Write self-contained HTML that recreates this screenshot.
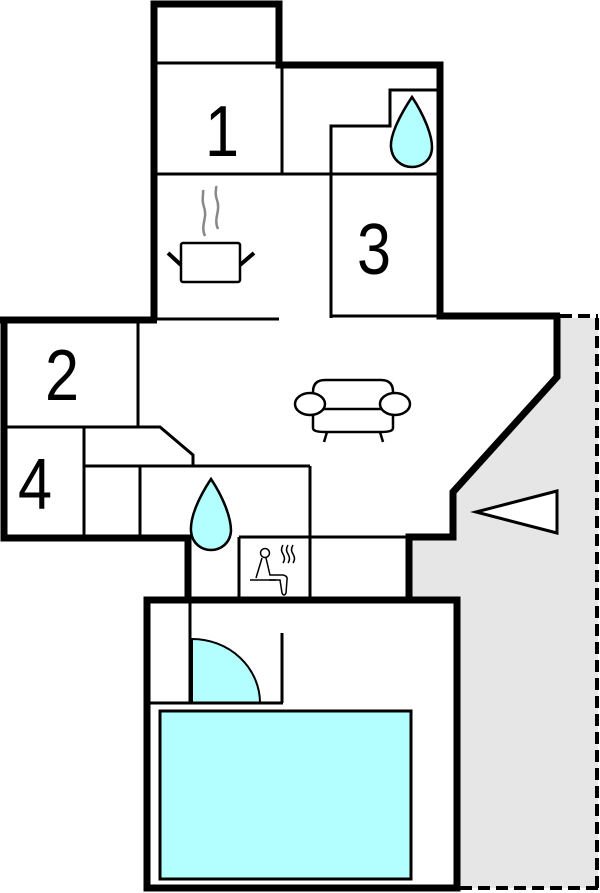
<!DOCTYPE html>
<html><head><style>html,body{margin:0;padding:0;background:#fff;}svg{display:block}</style></head>
<body>
<svg width="600" height="893" viewBox="0 0 600 893" xmlns="http://www.w3.org/2000/svg">
<polygon points="560,318 598,318 598,888 457,888 457,597 409,597 409,537 453,537 453,492 557,377 557,318" fill="#e6e6e6"/>
<g stroke="#000" stroke-width="4" stroke-dasharray="12,6" fill="none">
<line x1="597" y1="318" x2="597" y2="888"/>
<line x1="598" y1="888" x2="457" y2="888"/>
<line x1="560" y1="316" x2="598" y2="316"/>
</g>
<rect x="160" y="711" width="251" height="168" fill="#b3ffff" stroke="#000" stroke-width="3"/>
<path d="M192,703 L192,639 A68,64 0 0 1 260,703 Z" fill="#b3ffff" stroke="#000" stroke-width="2"/>
<g stroke="#000" stroke-width="3" fill="none">
<line x1="154" y1="63" x2="279" y2="63"/>
<line x1="282" y1="65" x2="282" y2="174"/>
<line x1="154" y1="174" x2="440" y2="174"/>
<polyline points="331,318 331,126 390,126 390,90 440,90"/>
<line x1="331" y1="316" x2="440" y2="316"/>
<line x1="155" y1="319" x2="279" y2="319"/>
<line x1="138" y1="319" x2="138" y2="427"/>
<polyline points="4,427 160,427 193,455 193,466"/>
<line x1="84" y1="466" x2="310" y2="466"/>
<line x1="84" y1="427" x2="84" y2="538"/>
<line x1="140" y1="466" x2="140" y2="538"/>
<line x1="310" y1="466" x2="310" y2="600"/>
<line x1="239" y1="537" x2="409" y2="537"/>
<line x1="239" y1="537" x2="239" y2="600"/>
<line x1="190" y1="600" x2="190" y2="703"/>
<line x1="147" y1="703" x2="283" y2="703"/>
<line x1="282" y1="633" x2="282" y2="703"/>
</g>
<g stroke="#000" stroke-width="7" fill="none" stroke-linejoin="miter">
<polyline points="154,320 154,4 279,4 279,65 440,65 440,316 560,316 557,316 557,377 453,492 453,537 409,537 409,600"/>
<polyline points="0,320 157,320"/>
<polyline points="4,320 4,538 188,538 188,600"/>
<rect x="147" y="600" width="310" height="288"/>
</g>
<path d="M412,97 C400,115 390,135 391,147 C392,160 402,167 412,167 C422,167 432,160 432,147 C432,135 424,115 412,97 Z" fill="#b3ffff" stroke="#000" stroke-width="2.5"/>
<path d="M211,479 C199,497 190,517 191,531 C192,544 202,550 211,550 C220,550 230,544 231,531 C231,517 223,497 211,479 Z" fill="#b3ffff" stroke="#000" stroke-width="2.5"/>
<polygon points="476,512 557,491 557,533" fill="#fff" stroke="#000" stroke-width="3"/>
<g stroke="#000" fill="none">
<rect x="181" y="243" width="59" height="39" rx="2" stroke-width="2.5" fill="#fff"/>
<line x1="168" y1="253" x2="181" y2="265" stroke-width="4"/>
<line x1="240" y1="265" x2="254" y2="253" stroke-width="4"/>
<path d="M205,236 C200,225 208,218 204,207 C201,199 204,193 203,190" stroke="#888" stroke-width="2.5"/>
<path d="M218,229 C213,218 221,211 217,200 C214,192 217,188 216,186" stroke="#888" stroke-width="2.5"/>
</g>
<g stroke="#000" stroke-width="2.5" fill="#fff">
<path d="M313,428 L313,392 Q313,380 325,380 L381,380 Q393,380 393,392 L393,428 Q393,432 381,432 L325,432 Q313,432 313,428 Z"/>
<line x1="313" y1="409" x2="393" y2="409"/>
<ellipse cx="310" cy="404" rx="15" ry="11"/>
<ellipse cx="395" cy="404" rx="15" ry="11"/>
<line x1="327" y1="432" x2="324" y2="442"/>
<line x1="380" y1="432" x2="383" y2="442"/>
</g>
<g stroke="#000" stroke-width="1.5" fill="none">
<circle cx="265" cy="553" r="4.5"/>
<path d="M262,558 L256,578 M266,558 L270,575 L283,575 Q288,576 287,580 L286,593 Q284,597 282,593 L280,580 L269,580"/>
<line x1="250" y1="580" x2="276" y2="580"/>
<path d="M283,545 q-3,5 0,9 q3,5 0,9 M288,545 q-3,5 0,9 q3,5 0,9 M293,545 q-3,5 0,9 q3,5 0,9"/>
</g>
<g font-family="Liberation Sans, sans-serif" font-size="72" fill="#000" text-anchor="middle">
<text transform="translate(222,156) scale(0.85,1)">1</text>
<text transform="translate(62,400) scale(0.85,1)">2</text>
<text transform="translate(374,274) scale(0.85,1)">3</text>
<text transform="translate(35,509) scale(0.85,1)">4</text>
</g>
</svg>
</body></html>
